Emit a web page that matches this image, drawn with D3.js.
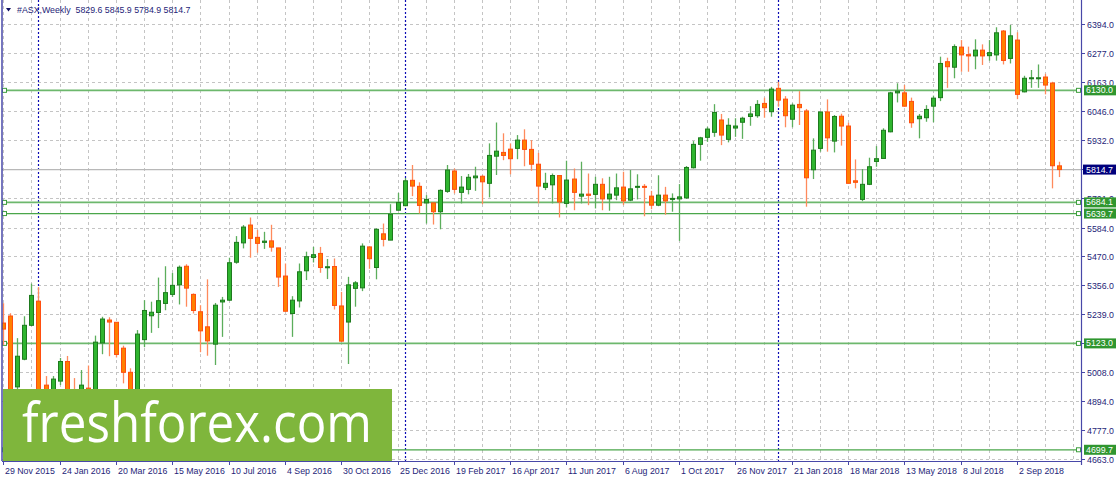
<!DOCTYPE html>
<html><head><meta charset="utf-8">
<script src="https://cdn.jsdelivr.net/npm/d3@7"></script>
<style>body{margin:0;background:#fff}svg{display:block}</style>
</head><body>
<svg id="c" width="1116" height="480"></svg>
<script>
// ---- DATA (weekly candles, index 0 = week of 29 Nov 2015) ----
const openP  = [5204,5232,4950,5060,5195,5291,4957,4897,4973,5051,4929,4897,4945,4897,5125,5216,5207,5104,5008,4905,5138,5233,5246,5282,5318,5356,5430,5318,5249,5189,5120,5288,5295,5446,5523,5594,5545,5525,5531,5503,5391,5242,5292,5412,5465,5481,5425,5429,5272,5208,5342,5344,5507,5425,5559,5534,5653,5671,5772,5748,5682,5682,5647,5728,5809,5724,5736,5782,5788,5760,5868,5883,5896,5899,5932,5895,5836,5744,5754,5791,5680,5777,5709,5717,5716,5756,5698,5713,5745,5693,5744,5748,5709,5673,5713,5696,5698,5702,5822,5915,5943,5963,6012,5935,5980,6003,6026,6029,6078,6045,6138,6095,6015,6074,6048,5814,5899,6044,5928,6027,5988,5770,5696,5756,5847,5859,5965,6120,6120,6086,6017,6021,6067,6101,6244,6222,6302,6272,6267,6290,6268,6271,6366,6257,6330,6124,6176,6177,6183,6159,5829.6];
const highP  = [5283,5243,5144,5231,5361,5347,4993,4993,5065,5073,4985,5017,5035,5154,5229,5227,5208,5114,5024,5176,5295,5289,5385,5430,5403,5433,5438,5322,5275,5378,5284,5308,5464,5550,5594,5624,5574,5567,5595,5503,5441,5311,5441,5488,5507,5507,5459,5461,5328,5388,5371,5521,5507,5581,5600,5677,5722,5781,5833,5764,5713,5682,5736,5833,5819,5789,5797,5826,5793,5919,6002,5959,5919,5952,5975,5932,5881,5802,5799,5791,5850,5819,5846,5799,5786,5780,5786,5799,5806,5813,5796,5757,5730,5792,5746,5720,5757,5829,5928,5945,5985,6075,6036,6019,6019,6025,6067,6091,6101,6144,6164,6107,6078,6127,6056,5939,6044,6094,6032,6037,6001,5855,5817,5862,5908,5979,6124,6158,6151,6101,6036,6071,6109,6264,6260,6313,6330,6304,6333,6313,6330,6381,6370,6390,6361,6188,6211,6233,6196,6164,5845.9];
const lowP   = [5116,4818,4930,5056,5192,4798,4778,4818,4957,4889,4826,4857,4877,4857,5080,5072,5067,4964,4877,4889,5108,5165,5184,5255,5308,5278,5269,5242,5088,5074,5037,5149,5292,5440,5501,5464,5484,5499,5488,5348,5249,5149,5266,5375,5445,5404,5379,5258,5129,5041,5269,5331,5420,5378,5509,5534,5653,5669,5709,5640,5600,5596,5577,5722,5720,5680,5716,5730,5677,5704,5793,5852,5796,5856,5828,5810,5680,5733,5680,5624,5664,5653,5680,5673,5660,5653,5651,5693,5673,5689,5696,5629,5657,5669,5635,5647,5531,5698,5819,5850,5925,5945,5912,5923,5945,5937,5989,6021,6021,6025,6065,5983,5983,5992,5667,5777,5886,5886,5883,5910,5760,5740,5689,5753,5826,5857,5963,6082,6065,5981,5939,6005,6003,6087,6140,6178,6204,6204,6214,6231,6248,6248,6233,6237,6095,6122,6140,6140,6114,5740,5784.9];
const closeP = [5180,4857,5072,5195,5314,4818,4857,4981,5051,4917,4877,4957,4917,5128,5220,5208,5079,5008,4897,5160,5254,5247,5293,5325,5354,5426,5343,5254,5173,5133,5275,5295,5444,5525,5586,5541,5521,5530,5506,5387,5251,5295,5408,5468,5476,5425,5428,5274,5132,5356,5364,5510,5460,5577,5537,5637,5684,5770,5749,5672,5696,5647,5732,5813,5736,5745,5784,5789,5766,5871,5888,5871,5858,5932,5895,5836,5749,5760,5791,5686,5773,5724,5717,5712,5756,5698,5717,5742,5690,5738,5748,5744,5673,5713,5690,5700,5706,5823,5915,5941,5976,6042,5952,5991,5988,6019,6036,6074,6061,6135,6091,6029,6071,6061,5782,5892,6044,5941,6026,5988,5760,5764,5756,5826,5858,5971,6120,6127,6067,6001,6027,6054,6099,6237,6224,6304,6271,6267,6290,6267,6280,6359,6249,6347,6114,6178,6180,6180,6151,5830,5814.7];
const dateLabels = ["29 Nov 2015","24 Jan 2016","20 Mar 2016","15 May 2016","10 Jul 2016","4 Sep 2016","30 Oct 2016","25 Dec 2016","19 Feb 2017","16 Apr 2017","11 Jun 2017","6 Aug 2017","1 Oct 2017","26 Nov 2017","21 Jan 2018","18 Mar 2018","13 May 2018","8 Jul 2018","2 Sep 2018"];
const labelEvery = 8;      // weeks between date labels
const gridEvery = 4;       // weeks between vertical grid lines
const priceTicks = [6394.0,6277.0,6163.0,6046.0,5932.0,5816.0,5701.0,5584.0,5470.0,5356.0,5239.0,5123.0,5008.0,4894.0,4777.0,4663.0];
const hiddenTickLabels = [5816.0,5123.0]; // covered by price boxes in the original
const levelLines = [6130.0,5684.1,5639.7,5123.0,4699.7];
const levelHeavy = [true,true,false,true,false];
const yearStartIdx = [5,57,110];
const lastPrice = 5814.7;
const headerSymbol = "#ASX,Weekly";
const headerOHLC = [5829.6,5845.9,5784.9,5814.7];
const watermark = "freshforex.com";

// ---- LAYOUT ----
const svg = d3.select("#c");
const L = 2, R = 1081, T = 0, B = 461;
const n = openP.length;
const x = d3.scaleLinear().domain([0, n - 1]).range([3.3, 1059.3]);
const y = d3.scaleLinear().domain([4663, 6394]).range([459, 24]);
const font = "'Liberation Sans', Arial, sans-serif";
const fs = 8.8;
const axisCol = "#1e1e78";

svg.append("rect").attr("width",1116).attr("height",480).attr("fill","#fff");
svg.append("defs").append("clipPath").attr("id","plot")
  .append("rect").attr("x",L).attr("y",T).attr("width",R-L).attr("height",B-T);

const g = svg.append("g").attr("clip-path","url(#plot)");

// grid
priceTicks.forEach(v => {
  const yy = Math.round(y(v)) + 0.5;
  g.append("line").attr("x1",L).attr("x2",R).attr("y1",yy).attr("y2",yy)
    .attr("stroke","#c4c4c4").attr("stroke-dasharray","3,3");
});
for (let i = 0; i * gridEvery <= n + 1; i++) {
  const xx = Math.round(x(i * gridEvery)) + 0.5;
  g.append("line").attr("x1",xx).attr("x2",xx).attr("y1",T).attr("y2",B)
    .attr("stroke","#c4c4c4").attr("stroke-dasharray","3,3");
}
// period separators
yearStartIdx.forEach(i => {
  const xx = Math.round(x(i)) + 0.5;
  g.append("line").attr("x1",xx).attr("x2",xx).attr("y1",T).attr("y2",B)
    .attr("stroke","#0c0cb4").attr("stroke-width",1.2).attr("stroke-dasharray","2,2");
});
// bid line
g.append("line").attr("x1",L).attr("x2",R).attr("y1",y(lastPrice)).attr("y2",y(lastPrice))
  .attr("stroke","#b8b8b8").attr("stroke-width",1.2);

// level lines
levelLines.forEach((v,k) => {
  const yy = y(v);
  g.append("line").attr("x1",L).attr("x2",R).attr("y1",yy).attr("y2",yy)
    .attr("stroke", levelHeavy[k] ? "#6db86d" : "#4aa64a").attr("stroke-width", levelHeavy[k] ? 1.8 : 1.3);
  [4.5, 1078.5].forEach(cx => {
    g.append("rect").attr("x",cx-2).attr("y",yy-2).attr("width",4).attr("height",4)
      .attr("fill","#fff").attr("stroke","#3f9f3f").attr("stroke-width",1);
  });
});

// candles
const candles = g.append("g");
for (let i = 0; i < n; i++) {
  const bull = closeP[i] >= openP[i];
  const cx = Math.round(x(i)) + 0.5;
  candles.append("line").attr("x1",cx).attr("x2",cx)
    .attr("y1",y(highP[i])).attr("y2",y(lowP[i]))
    .attr("stroke", bull ? "#5cae5c" : "#ff8a5c").attr("stroke-width",1.3);
  const top = y(Math.max(openP[i],closeP[i])), bot = y(Math.min(openP[i],closeP[i]));
  candles.append("rect").attr("x",cx-2).attr("y",top)
    .attr("width",4).attr("height",Math.max(1,bot-top))
    .attr("fill", bull ? "#2fb52f" : "#ff8000")
    .attr("stroke", bull ? "#1e7a1e" : "#ff4e10").attr("stroke-width",1);
}

// frame
svg.append("line").attr("x1",L).attr("x2",L).attr("y1",0).attr("y2",B).attr("stroke","#4848a8").attr("stroke-width",1.5);
svg.append("line").attr("x1",R+0.5).attr("x2",R+0.5).attr("y1",0).attr("y2",B+4).attr("stroke","#4848a8").attr("stroke-width",1.2);
svg.append("line").attr("x1",L).attr("x2",R).attr("y1",B+0.5).attr("y2",B+0.5).attr("stroke","#4848a8").attr("stroke-width",1.2);

// right axis
const ax = svg.append("g");
priceTicks.forEach(v => {
  const yy = Math.round(y(v)) + 0.5;
  ax.append("line").attr("x1",R).attr("x2",R+4).attr("y1",yy).attr("y2",yy).attr("stroke","#4848a8");
  if (!hiddenTickLabels.includes(v)) {
    ax.append("text").attr("x",R+6).attr("y",yy).attr("dy","0.35em")
      .attr("font-family",font).attr("font-size",fs).attr("fill",axisCol).text(v.toFixed(1));
  }
});
// bottom axis
dateLabels.forEach((lab,k) => {
  const xx = Math.round(x(k*labelEvery)) + 0.5;
  ax.append("line").attr("x1",xx).attr("x2",xx).attr("y1",B).attr("y2",B+4).attr("stroke","#4848a8");
  ax.append("text").attr("x",xx+1.5).attr("y",474)
    .attr("font-family",font).attr("font-size",fs).attr("fill",axisCol).text(lab);
});
// level labels
levelLines.forEach(v => {
  const yy = y(v);
  ax.append("rect").attr("x",R+3).attr("y",yy-5).attr("width",33).attr("height",10).attr("fill","#2f962f");
  ax.append("text").attr("x",R+5).attr("y",yy).attr("dy","0.35em")
    .attr("font-family",font).attr("font-size",fs).attr("fill","#fff").text(v.toFixed(1));
});
// last price label
{
  const yy = y(lastPrice);
  ax.append("rect").attr("x",R+2).attr("y",yy-5).attr("width",33).attr("height",10).attr("fill","#00007c");
  ax.append("text").attr("x",R+5).attr("y",yy).attr("dy","0.35em")
    .attr("font-family",font).attr("font-size",fs).attr("fill","#fff").text(lastPrice.toFixed(1));
}

// header
svg.append("path").attr("d","M6,8 L11,8 L8.5,11.5 Z").attr("fill","#101060");
svg.append("text").attr("x",17).attr("y",13).attr("font-family",font).attr("font-size",fs).attr("fill",axisCol)
  .attr("xml:space","preserve").text(headerSymbol + "  " + headerOHLC.map(v=>v.toFixed(1)).join(" "));

// watermark
svg.append("rect").attr("x",3).attr("y",389).attr("width",389).attr("height",72).attr("fill","#7fb63c");
svg.append("text").attr("x",22).attr("y",442).attr("font-family","'Open Sans', sans-serif")
  .attr("font-size",54).attr("fill","#fff").attr("textLength",350).attr("lengthAdjust","spacingAndGlyphs").text(watermark);
</script>
</body></html>
